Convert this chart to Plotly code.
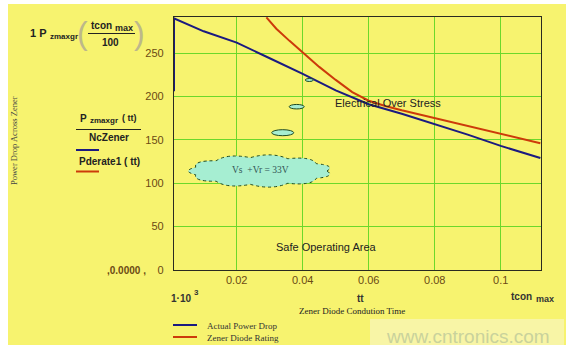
import plotly.graph_objects as go

# ---- data ----
blue_x = [0.001, 0.001, 0.01, 0.02, 0.03, 0.04, 0.05, 0.06, 0.07, 0.08, 0.09, 0.1, 0.112]
blue_y = [206, 290, 275, 262, 244, 226, 207, 191, 180, 168, 156, 143, 129]
red_x = [0.029, 0.032, 0.036, 0.04, 0.045, 0.05, 0.055, 0.06, 0.065, 0.07, 0.08, 0.09, 0.1, 0.112]
red_y = [291, 278, 264, 251, 234, 219, 205, 195, 189, 184, 175, 166, 156.5, 146]
x_ticks = [0.02, 0.04, 0.06, 0.08, 0.1]
x_ticktext = ["0.02", "0.04", "0.06", "0.08", "0.1"]
y_ticks = [0, 50, 100, 150, 200, 250]
y_ticktext = ["0", "50", "100", "150", "200", "250"]

W, H = 571, 351
L, R, T, B = 174, 541, 17, 270
YELLOW = "#F7F36F"
GRID = "#6CD82A"
BLUE = "#1B1A80"
RED = "#CC3A0A"
TICKC = "#6B4A14"
SANS = "Liberation Sans, Arial, sans-serif"
SERIF = "Liberation Serif, Times New Roman, serif"


def px(x):
    return (x - L) / (R - L)


def py(y):
    return (B - y) / (B - T)


fig = go.Figure()
fig.add_trace(go.Scatter(x=blue_x, y=blue_y, mode="lines",
                         line=dict(color=BLUE, width=2), showlegend=False))
fig.add_trace(go.Scatter(x=red_x, y=red_y, mode="lines",
                         line=dict(color=RED, width=2), showlegend=False))

shapes = []
# yellow page background
shapes.append(dict(type="rect", xref="paper", yref="paper", layer="below",
                   x0=px(8), x1=px(566), y0=py(4), y1=py(345),
                   fillcolor=YELLOW, line=dict(width=0)))
# watermark band
shapes.append(dict(type="rect", xref="paper", yref="paper", layer="below",
                   x0=px(370), x1=px(564), y0=py(319), y1=py(345),
                   fillcolor="#F8F5A6", line=dict(width=0)))

# cloud path (bumpy ellipse)
import math
cx, cy, rx, ry = 260, 171, 67, 13.5
n = 11
pts = []
for i in range(n + 1):
    a = 2 * math.pi * i / n
    pts.append((cx + rx * math.cos(a), cy + ry * math.sin(a)))
path = "M %f,%f" % (px(pts[0][0]), py(pts[0][1]))
for i in range(n):
    (x1, y1), (x2, y2) = pts[i], pts[i + 1]
    am = 2 * math.pi * (i + 0.5) / n
    bx = cx + rx * 1.18 * math.cos(am)
    by = cy + ry * 1.45 * math.sin(am)
    path += " Q %f,%f %f,%f" % (px(bx), py(by), px(x2), py(y2))
path += " Z"
shapes.append(dict(type="path", xref="paper", yref="paper", path=path,
                   fillcolor="#A6EED2", line=dict(color="#1E4A22", width=1, dash="dot")))
# bubbles
for (bx, by, w, h) in [(282.7, 132.7, 22, 6), (296.7, 106.7, 15, 4.5), (309.3, 80, 8, 3)]:
    shapes.append(dict(type="circle", xref="paper", yref="paper",
                       x0=px(bx - w / 2), x1=px(bx + w / 2), y0=py(by - h / 2), y1=py(by + h / 2),
                       fillcolor="#A6EED2", line=dict(color="#1E4A22", width=1)))
# fraction lines and legend lines
shapes.append(dict(type="line", xref="paper", yref="paper", x0=px(88), x1=px(135), y0=py(33.5), y1=py(33.5),
                   line=dict(color="#222", width=1)))
shapes.append(dict(type="line", xref="paper", yref="paper", x0=px(76), x1=px(141), y0=py(129.5), y1=py(129.5),
                   line=dict(color="#222", width=1)))
shapes.append(dict(type="line", xref="paper", yref="paper", x0=px(76), x1=px(99), y0=py(150), y1=py(150),
                   line=dict(color=BLUE, width=2)))
shapes.append(dict(type="line", xref="paper", yref="paper", x0=px(76), x1=px(99), y0=py(171.5), y1=py(171.5),
                   line=dict(color=RED, width=2)))
shapes.append(dict(type="line", xref="paper", yref="paper", x0=px(173), x1=px(197), y0=py(325), y1=py(325),
                   line=dict(color=BLUE, width=2)))
shapes.append(dict(type="line", xref="paper", yref="paper", x0=px(173), x1=px(197), y0=py(337), y1=py(337),
                   line=dict(color=RED, width=2)))

ann = []


def A(text, x, y, size=10, color="#222", family=SANS, xanchor="center", angle=0, bold=False):
    if bold:
        text = "<b>" + text + "</b>"
    ann.append(dict(text=text, x=px(x), y=py(y), xref="paper", yref="paper",
                    xanchor=xanchor, yanchor="middle", showarrow=False, textangle=angle,
                    font=dict(size=size, color=color, family=family)))


A("1 P", 38, 33, 11, bold=True)
A("zmaxgr", 64, 36, 8, bold=True)
A("(", 82, 33, 32, "#BDB88A")
A(")", 139, 33, 32, "#BDB88A")
A("tcon", 101, 25, 10, bold=True)
A("max", 124, 28, 9, bold=True)
A("100", 110, 43, 10, bold=True)
A("P", 83, 118, 10, bold=True)
A("zmaxgr", 104, 121, 8, bold=True)
A("( tt)", 129, 118, 9, bold=True)
A("NcZener", 109, 137.5, 10, bold=True)
A("Pderate1 ( tt)", 109, 161, 10, bold=True)
A(",0.0000 ,", 126, 270, 10, TICKC, bold=True)
A("Power Drop Across Zener", 14, 141, 8.5, "#444", SERIF, angle=-90)
A("Vs  +Vr = 33V", 260, 170, 9.5, "#355", SERIF)
A("Electrical Over Stress", 388, 103, 11, "#222")
A("Safe Operating Area", 326, 247, 11, "#222")
A("1·10", 181, 298, 10, "#333", bold=True)
A("3", 196, 292, 8, "#333", bold=True)
A("tt", 360, 298, 10, "#333", bold=True)
A("tcon", 521, 296, 10, "#333", bold=True)
A("max", 545, 299, 9, "#333", bold=True)
A("Zener Diode Condution Time", 352, 311, 9, "#222", SERIF)
A("Actual Power Drop", 205, 326, 9, "#333", SERIF, xanchor="left")
A("Zener Diode Rating", 205, 338, 9, "#333", SERIF, xanchor="left")
A("www.cntronics.com", 468, 336, 19, "#C9D29C")

fig.update_layout(
    width=W, height=H,
    margin=dict(l=L, r=W - R, t=T, b=H - B, pad=0),
    paper_bgcolor="white",
    plot_bgcolor="rgba(0,0,0,0)",
    shapes=shapes, annotations=ann, showlegend=False,
    xaxis=dict(range=[0.001, 0.1122], tickvals=x_ticks, ticktext=x_ticktext,
               showgrid=True, gridcolor=GRID, gridwidth=1.3, zeroline=False,
               showline=True, linecolor="#2A2A20", linewidth=1.2, mirror=True,
               ticks="", tickfont=dict(size=11, color=TICKC, family=SANS)),
    yaxis=dict(range=[0, 291.5], tickvals=y_ticks, ticktext=y_ticktext,
               showgrid=True, gridcolor=GRID, gridwidth=1.3, zeroline=False,
               showline=True, linecolor="#2A2A20", linewidth=1.2, mirror=True,
               ticks="outside", ticklen=7, tickcolor="rgba(0,0,0,0)",
               tickfont=dict(size=11, color=TICKC, family=SANS)),
)
fig.write_html("out.html")
